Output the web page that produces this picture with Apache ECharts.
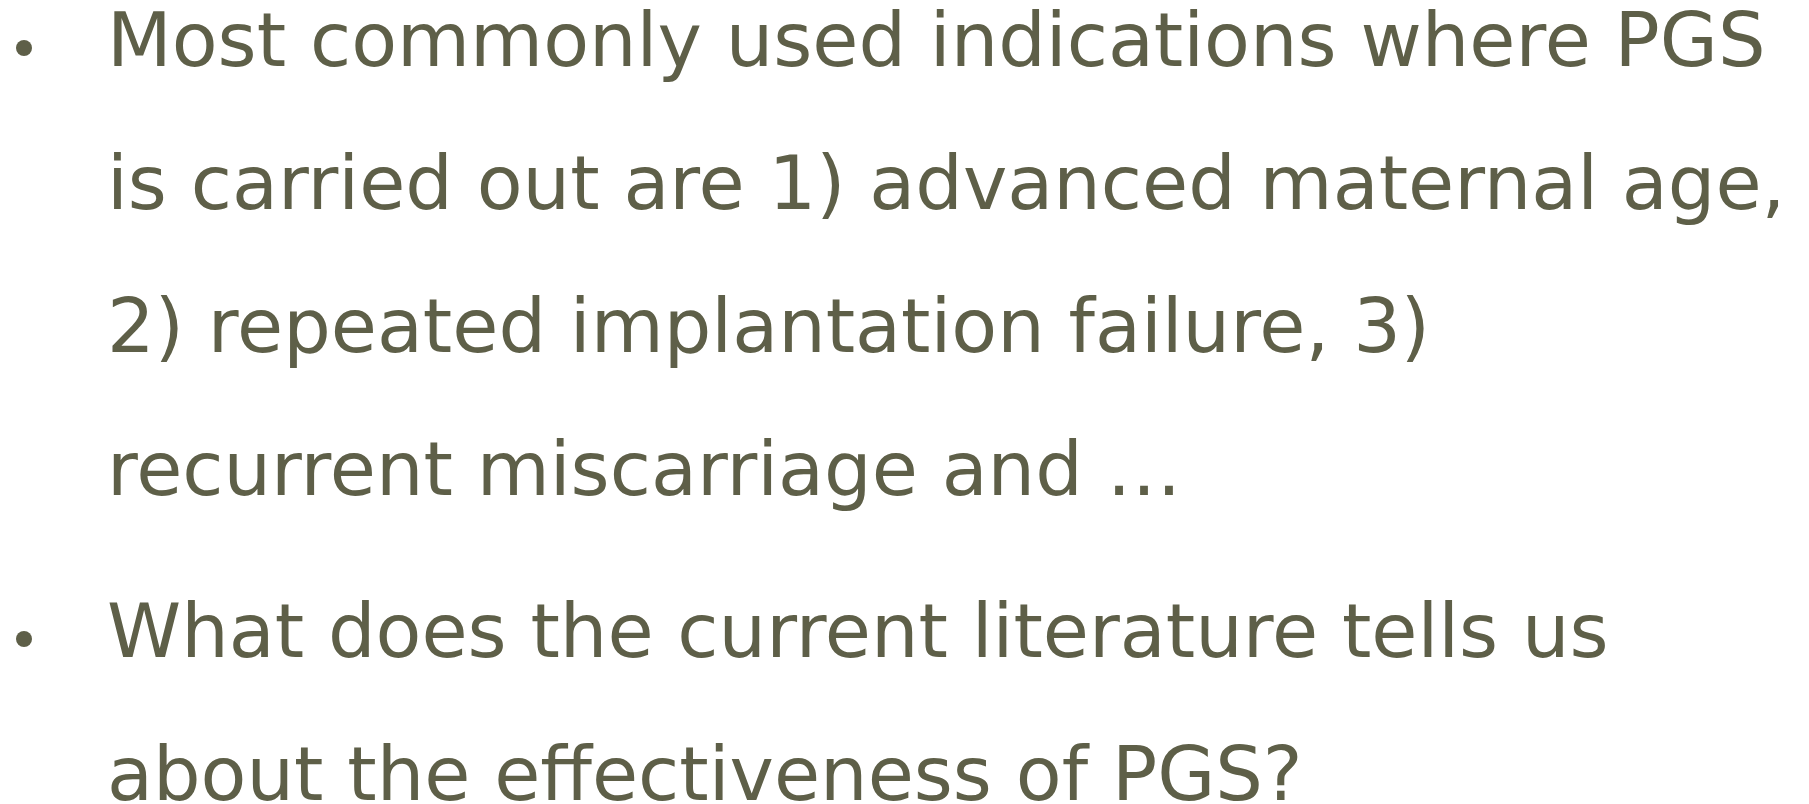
<!DOCTYPE html>
<html>
<head>
<meta charset="utf-8">
<script src="https://cdn.jsdelivr.net/npm/echarts@6/dist/echarts.min.js"></script>
<style>
html,body{margin:0;padding:0;background:#ffffff;}
#main{width:1809px;height:804px;}
</style>
</head>
<body>
<div id="main"></div>
<script>
var bulletLines = [
  "Most commonly used indications where PGS",
  "is carried out are 1) advanced maternal age,",
  "2) repeated implantation failure, 3)",
  "recurrent miscarriage and \u2026",
  "What does the current literature tells us",
  "about the effectiveness of PGS?"
];
var bulletStarts = [true, false, false, false, true, false];
var baselines = [66, 209, 352, 495, 657, 800];

var textColor = '#5e5f48';
var fontSize = 75;
var fontFamily = '"DejaVu Sans", Verdana, sans-serif';

var chart = echarts.init(document.getElementById('main'), null, {renderer: 'canvas'});
var elements = [];
bulletLines.forEach(function (t, i) {
  elements.push({
    type: 'text',
    left: 107,
    top: baselines[i] - 57,
    style: {
      text: t,
      fill: textColor,
      font: 'normal ' + fontSize + 'px ' + fontFamily
    }
  });
  if (bulletStarts[i]) {
    elements.push({
      type: 'circle',
      shape: {cx: 24, cy: baselines[i] - 18, r: 8},
      style: {fill: textColor}
    });
  }
});
chart.setOption({
  backgroundColor: '#ffffff',
  animation: false,
  graphic: {elements: elements}
});
</script>
</body>
</html>
